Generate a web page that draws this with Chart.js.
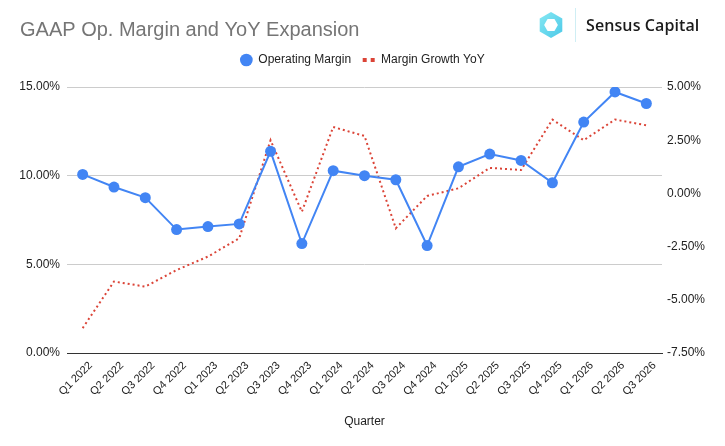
<!DOCTYPE html>
<html lang="en">
<head>
  <meta charset="UTF-8" />
  <title>GAAP Op. Margin and YoY Expansion</title>
  <style>
    body {
      margin: 0;
      background: #ffffff;
      font-family: "Liberation Sans", Arial, sans-serif;
    }
    #wrap {
      position: relative;
      width: 725px;
      height: 446px;
    }
    #logo {
      position: absolute;
      left: 537px;
      top: 8px;
      height: 34px;
      display: flex;
      align-items: center;
    }
    #logo .divider {
      width: 1px;
      height: 34px;
      background: #cfeef4;
      margin: 0 10px 0 10px;
    }
    #logo .name {
      font-family: "Open Sans", sans-serif;
      font-weight: 600;
      font-size: 16px;
      color: #1b1b1b;
      letter-spacing: 0.1px;
    }
  </style>
</head>
<body>
  <div id="wrap">
    <canvas id="marginChart" width="725" height="446"></canvas>
    <div id="logo">
      <svg width="28" height="28" viewBox="-14 -14 28 28">
        <defs>
          <linearGradient id="hexFill" x1="0" y1="0" x2="1" y2="1">
            <stop offset="0" stop-color="#86e8f3" />
            <stop offset="1" stop-color="#4cc9e8" />
          </linearGradient>
        </defs>
        <polygon points="0,-13 11.3,-6.5 11.3,6.5 0,13 -11.3,6.5 -11.3,-6.5" fill="url(#hexFill)" />
        <polygon points="6.9,0 3.45,6 -3.45,6 -6.9,0 -3.45,-6 3.45,-6" fill="#ffffff" />
      </svg>
      <div class="divider"></div>
      <div class="name">Sensus Capital</div>
    </div>
  </div>

  <script src="https://cdn.jsdelivr.net/npm/chart.js"></script>
  <script>
    const quarters = [
      'Q1 2022', 'Q2 2022', 'Q3 2022', 'Q4 2022',
      'Q1 2023', 'Q2 2023', 'Q3 2023', 'Q4 2023',
      'Q1 2024', 'Q2 2024', 'Q3 2024', 'Q4 2024',
      'Q1 2025', 'Q2 2025', 'Q3 2025', 'Q4 2025',
      'Q1 2026', 'Q2 2026', 'Q3 2026'
    ];
    // operating margin, %
    const opMargin = [10.07, 9.36, 8.76, 6.96, 7.13, 7.28, 11.37, 6.17, 10.28, 10.0,
                      9.77, 6.06, 10.5, 11.22, 10.86, 9.6, 13.02, 14.72, 14.07];
    // margin growth yoy, % (right axis)
    const marginGrowth = [-6.33, -4.14, -4.38, -3.6, -2.97, -2.11, 2.5, -0.86, 3.12, 2.7,
                          -1.64, -0.12, 0.24, 1.2, 1.1, 3.47, 2.5, 3.47, 3.2];
    const leftTicks = [0, 5, 10, 15];
    const rightTicks = [-7.5, -5, -2.5, 0, 2.5, 5];

    const BLUE = '#4285f4';
    const RED = '#db4437';
    const FONT = '"Liberation Sans", Arial, sans-serif';

    // push the plot area down a bit below the legend
    const legendGap = {
      id: 'legendGap',
      beforeInit(chart) {
        const fit = chart.legend.fit;
        chart.legend.fit = function () {
          fit.call(this);
          this.height += 11;
        };
      }
    };

    const pct = v => Number(v).toFixed(2) + '%';

    const ctx = document.getElementById('marginChart').getContext('2d');
    const chart = new Chart(ctx, {
      type: 'line',
      data: {
        labels: quarters,
        datasets: [{
          label: 'Operating Margin',
          data: opMargin,
          yAxisID: 'y',
          borderColor: BLUE,
          backgroundColor: BLUE,
          borderWidth: 2,
          pointRadius: 5.5,
          pointBorderWidth: 0,
          pointHoverRadius: 6,
          tension: 0
        }, {
          label: 'Margin Growth YoY',
          data: marginGrowth,
          yAxisID: 'y1',
          borderColor: RED,
          backgroundColor: RED,
          borderWidth: 2,
          borderDash: [2, 3],
          pointRadius: 0,
          tension: 0
        }]
      },
      options: {
        responsive: false,
        animation: false,
        layout: { padding: { left: 20, right: 20, top: 0, bottom: 0 } },
        plugins: {
          title: {
            display: true,
            text: 'GAAP Op. Margin and YoY Expansion',
            align: 'start',
            color: '#757575',
            font: { family: FONT, size: 20, weight: 'normal' },
            padding: { top: 18, bottom: 0 }
          },
          legend: {
            display: true,
            position: 'top',
            labels: {
              color: '#222222',
              font: { family: FONT, size: 12 },
              usePointStyle: true,
              boxWidth: 12,
              boxHeight: 9,
              padding: 12,
              generateLabels(chart) {
                return chart.data.datasets.map((ds, i) => ({
                  text: ds.label,
                  datasetIndex: i,
                  fillStyle: ds.borderColor,
                  strokeStyle: ds.borderColor,
                  fontColor: '#222222',
                  lineWidth: i === 0 ? 0 : 4,
                  lineDash: i === 0 ? [] : [4, 4],
                  pointStyle: i === 0 ? 'circle' : 'line',
                  hidden: false
                }));
              }
            }
          },
          tooltip: { enabled: false }
        },
        scales: {
          x: {
            offset: true,
            grid: { display: false, drawTicks: false },
            border: { display: true, color: '#333333', width: 1 },
            ticks: {
              color: '#222222',
              font: { family: FONT, size: 11 },
              minRotation: 45,
              maxRotation: 45,
              autoSkip: false,
              padding: 6,
              labelOffset: 8
            },
            title: {
              display: true,
              text: 'Quarter',
              color: '#222222',
              font: { family: FONT, size: 12 },
              padding: { top: 0, bottom: 17 }
            },
            afterFit(scale) { scale.height = 93; }
          },
          y: {
            position: 'left',
            min: leftTicks[0],
            max: leftTicks[leftTicks.length - 1],
            afterBuildTicks(scale) { scale.ticks = leftTicks.map(v => ({ value: v })); },
            grid: {
              drawTicks: false,
              color: c => (c.tick && c.tick.value === 0 ? '#333333' : '#cccccc')
            },
            border: { display: false },
            ticks: {
              color: '#222222',
              font: { family: FONT, size: 12 },
              padding: 7,
              callback: pct
            },
            afterFit(scale) { scale.width = 47; }
          },
          y1: {
            position: 'right',
            min: rightTicks[0],
            max: rightTicks[rightTicks.length - 1],
            afterBuildTicks(scale) { scale.ticks = rightTicks.map(v => ({ value: v })); },
            grid: { display: false, drawTicks: false },
            border: { display: false },
            ticks: {
              color: '#222222',
              font: { family: FONT, size: 12 },
              padding: 5,
              callback: pct
            },
            afterFit(scale) { scale.width = 43; }
          }
        }
      },
      plugins: [legendGap]
    });
  </script>
</body>
</html>
